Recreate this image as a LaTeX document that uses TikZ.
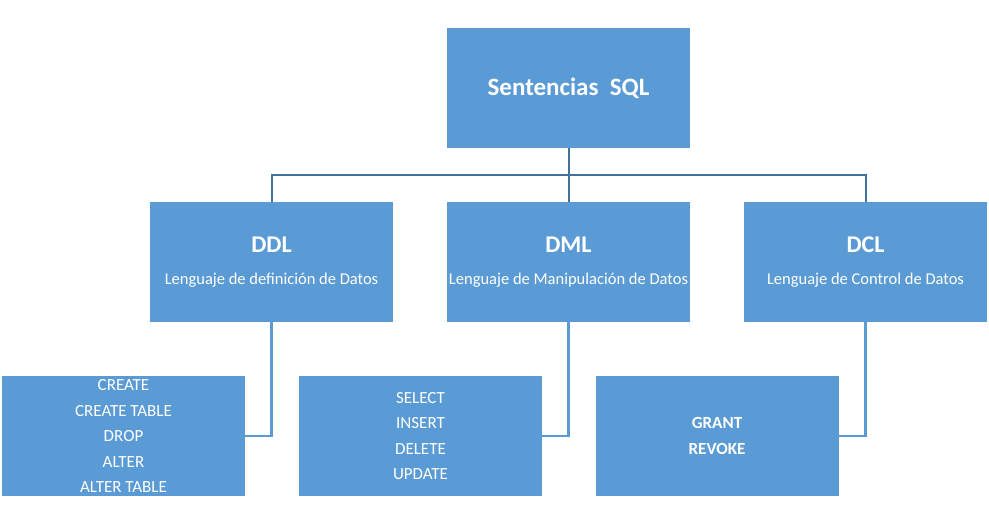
\documentclass[tikz,border=0pt]{standalone}
\usepackage{fontspec}
\setmainfont{Carlito}
\definecolor{boxblue}{HTML}{5B9BD5}
\definecolor{lineblue}{HTML}{41719C}
\begin{document}
\begin{tikzpicture}[x=1pt,y=-1pt,
  caja/.style={rectangle,fill=boxblue,text=white,align=center,inner sep=0pt,
    minimum width=243pt,minimum height=120pt},
  arriba/.style={draw=lineblue,line width=2pt},
  abajo/.style={draw=boxblue,line width=2.2pt}]
\useasboundingbox (0,0) rectangle (989,525);

\node[caja,font=\bfseries\fontsize{25}{28}\selectfont] (sql) at (568.5,88) {Sentencias~~SQL};

\node[caja] (ddl) at (271.5,262) {\bfseries\fontsize{24}{28}\selectfont DDL\\[20pt]
  \fontsize{16.5}{19}\selectfont Lenguaje de definición de Datos};
\node[caja] (dml) at (568.5,262) {\bfseries\fontsize{24}{28}\selectfont DML\\[20pt]
  \fontsize{16.5}{19}\selectfont Lenguaje de Manipulación de Datos};
\node[caja] (dcl) at (865.5,262) {\bfseries\fontsize{24}{28}\selectfont DCL\\[20pt]
  \fontsize{16.5}{19}\selectfont Lenguaje de Control de Datos};

\node[caja,font=\fontsize{17}{25.5}\selectfont] (ddlista) at (123.5,436)
  {CREATE\\CREATE TABLE\\DROP\\ALTER\\ALTER TABLE};
\node[caja,font=\fontsize{17}{25.5}\selectfont] (dmlista) at (420.5,436)
  {SELECT\\INSERT\\DELETE\\UPDATE};
\node[caja,font=\bfseries\fontsize{17}{25.5}\selectfont] (dclista) at (717,436)
  {GRANT\\REVOKE};

\draw[arriba] (sql.south) -- (dml.north);
\draw[arriba] (ddl.north) -- ++(0,-27) -| (dcl.north);

\draw[abajo] (ddl.south) |- (ddlista.east);
\draw[abajo] (dml.south) |- (dmlista.east);
\draw[abajo] (dcl.south) |- (dclista.east);
\end{tikzpicture}
\end{document}
